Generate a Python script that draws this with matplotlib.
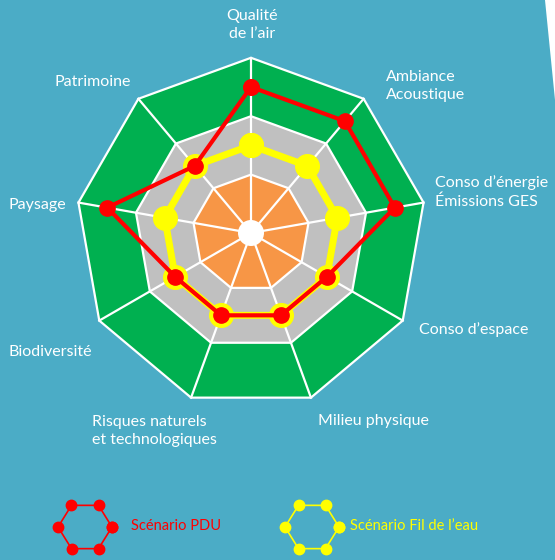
import numpy as np
import matplotlib.pyplot as plt
from matplotlib.patches import Polygon, Circle

plt.rcParams['font.family'] = ['Lato', 'DejaVu Sans']

categories = ["Qualité\nde l’air", "Ambiance\nAcoustique", "Conso d’énergie\nÉmissions GES",
              "Conso d’espace", "Milieu physique", "Risques naturels\net technologiques",
              "Biodiversité", "Paysage", "Patrimoine"]
pdu = [2.5, 2.5, 2.5, 1.5, 1.5, 1.5, 1.5, 2.5, 1.5]
fil_eau = [1.5, 1.5, 1.5, 1.5, 1.5, 1.5, 1.5, 1.5, 1.5]
levels = [3, 2, 1]
level_colors = ['#00b050', '#c0c0c0', '#f79646']
series_names = ["Scénario PDU", "Scénario Fil de l’eau"]

bg = '#4bacc6'
cx, cy = 251, 233
unit = 58.4
n = len(categories)
theta = np.deg2rad(90 - 360 / n * np.arange(n))


def pts(vals):
    r = np.asarray(vals, dtype=float) * unit
    return np.column_stack([cx + r * np.cos(theta), cy - r * np.sin(theta)])


fig = plt.figure(figsize=(5.55, 5.6), dpi=100, facecolor=bg)
ax = fig.add_axes([0, 0, 1, 1])
ax.set_xlim(0, 555)
ax.set_ylim(560, 0)
ax.axis('off')

# white page corner at top right
ax.add_patch(Polygon([(545, 0), (556, 0), (556, 110)], closed=True, fc='white', ec='none'))

for lv, col in zip(levels, level_colors):
    ax.add_patch(Polygon(pts([lv] * n), closed=True, fc=col, ec='white', lw=1.6, zorder=1))
outer = pts([levels[0]] * n)
for x, y in outer:
    ax.plot([cx, x], [cy, y], color='white', lw=1.6, zorder=2)
ax.add_patch(Circle((cx, cy), 13, fc='white', ec='none', zorder=3))

p = pts(fil_eau)
p = np.vstack([p, p[:1]])
ax.plot(p[:, 0], p[:, 1], color='#ffff00', lw=5, marker='o', ms=17, zorder=4)
p = pts(pdu)
p = np.vstack([p, p[:1]])
ax.plot(p[:, 0], p[:, 1], color='#ff0000', lw=3, marker='o', ms=11, zorder=5)

# axis labels
label_pos = [(252, 25, 'center'), (386, 86, 'left'), (435, 192, 'left'), (419, 330, 'left'),
             (318, 421, 'left'), (92, 431, 'left'), (8, 352, 'left'), (8, 205, 'left'),
             (55, 82, 'left')]
for lab, (x, y, ha) in zip(categories, label_pos):
    ax.text(x, y, lab, color='white', fontsize=11.5, ha=ha, va='center', linespacing=1.45)

# legend with hexagon icons
hex_ang = np.deg2rad(np.arange(0, 360, 60))
for (hx, hy), col, name, tx in zip([(85, 527), (312, 527)], ['#ff0000', '#ffff00'],
                                   series_names, [131, 350]):
    h = np.column_stack([hx + 27 * np.cos(hex_ang), hy + 25 * np.sin(hex_ang)])
    h = np.vstack([h, h[:1]])
    ax.plot(h[:, 0], h[:, 1], color=col, lw=1.2, marker='o', ms=7.5)
    ax.text(tx, hy - 1, name, color=col, fontsize=10.5, ha='left', va='center')

fig.savefig('out.png', dpi=100, facecolor=bg)
